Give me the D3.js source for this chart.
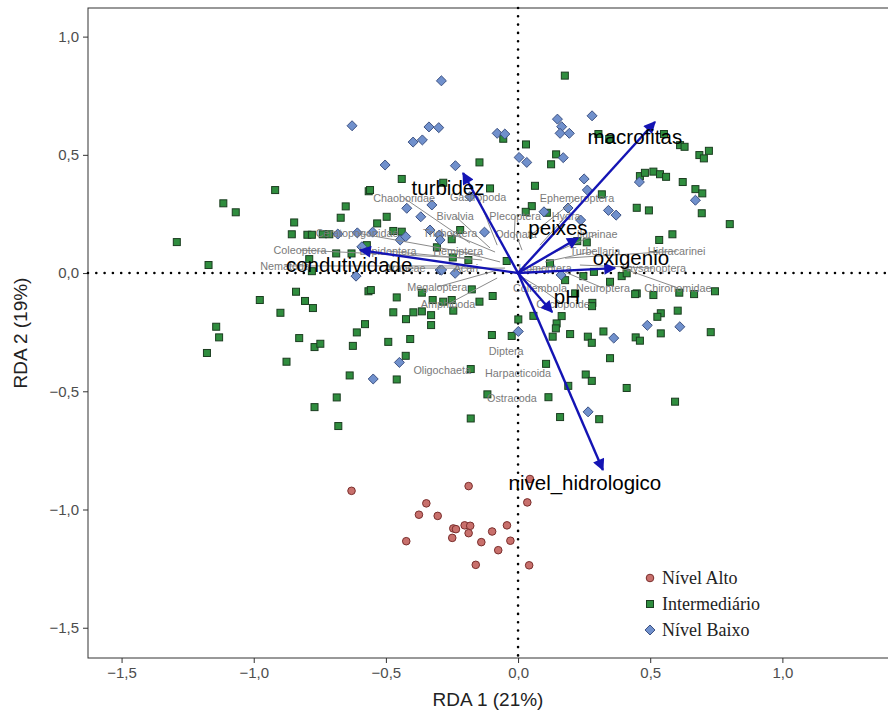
<!DOCTYPE html>
<html>
<head>
<meta charset="utf-8">
<script src="https://cdn.jsdelivr.net/npm/d3@7"></script>
<style>
  body { margin: 0; background: #fff; }
  svg { display: block; }
  .tick text { font-family: "Liberation Sans", Arial, sans-serif; }
</style>
</head>
<body>
<div id="chart"></div>
<script>
// RDA site scores, one array per hydrological level
const nivelAlto = [
  [-0.630,-0.921],[-0.187,-0.901],[0.045,-0.871],[0.035,-0.970],[-0.347,-0.974],
  [-0.375,-1.022],[-0.304,-1.027],[-0.245,-1.080],[-0.235,-1.083],[-0.202,-1.067],
  [-0.181,-1.069],[-0.187,-1.100],[-0.249,-1.120],[-0.423,-1.134],[-0.098,-1.093],
  [-0.042,-1.067],[-0.139,-1.138],[-0.029,-1.132],[-0.075,-1.172],[-0.160,-1.234],
  [0.042,-1.236]
];

const intermediario = [
  [-0.919,0.351],[-1.115,0.295],[-1.068,0.257],[-1.291,0.131],[-1.171,0.034],
  [-0.847,0.214],[-0.856,0.164],[-0.797,0.162],[-0.780,0.162],[-0.739,0.164],
  [-0.714,0.164],[-0.652,0.282],[-0.671,0.234],[-0.565,0.346],[-0.790,0.059],
  [-0.780,0.008],[-0.688,0.083],[-0.630,0.083],[-0.840,-0.079],[-0.977,-0.114],
  [-0.806,-0.118],[-0.776,-0.148],[-0.899,-0.168],[-1.142,-0.227],[-1.131,-0.272],
  [-1.177,-0.338],[-0.828,-0.275],[-0.770,-0.313],[-0.748,-0.299],[-0.876,-0.375],
  [-0.579,-0.216],[-0.610,-0.251],[-0.625,-0.308],[-0.637,-0.433],[-0.686,-0.526],
  [-0.770,-0.567],[-0.680,-0.647],[-0.566,-0.077],
  [-0.533,0.210],[-0.497,0.238],[-0.472,0.178],[-0.440,0.175],[-0.572,0.118],
  [-0.557,-0.072],[-0.459,-0.103],[-0.440,0.398],[-0.307,0.109],
  [-0.283,0.382],[-0.146,0.468],[-0.560,0.351],
  [-0.364,-0.083],[-0.323,-0.114],[-0.283,-0.121],[-0.245,-0.159],[-0.146,-0.121],
  [-0.472,-0.166],[-0.396,-0.166],[-0.364,-0.162],[-0.329,-0.178],[-0.424,-0.195],
  [-0.329,-0.220],[-0.491,-0.291],[-0.408,-0.279],[-0.099,-0.262],[-0.024,-0.266],
  [0.001,-0.196],[0.058,-0.181],[0.165,-0.182],[0.146,-0.213],[0.143,-0.234],
  [0.131,-0.269],[0.197,-0.258],[-0.425,-0.350],[-0.459,-0.450],[-0.179,-0.406],
  [0.106,-0.384],[-0.116,-0.513],[0.115,-0.525],[-0.179,-0.615],[0.159,-0.609],
  [0.190,-0.477],
  [-0.106,0.358],[0.064,0.369],[0.317,0.333],[0.052,0.283],[0.029,0.259],
  [0.109,0.255],[-0.219,0.182],[-0.251,0.143],[0.224,0.135],[0.260,0.130],
  [0.121,0.041],[-0.247,0.066],[-0.188,0.055],[-0.043,0.051],[0.287,0.005],
  [0.178,-0.030],[0.247,-0.013],[0.392,-0.013],[0.348,-0.037],[0.449,-0.086],
  [0.512,-0.093],[-0.096,-0.097],[-0.175,-0.069],[0.216,-0.086],[-0.251,-0.114],
  [0.281,-0.126],[0.623,0.385],[0.449,0.276],[0.495,0.265],[0.584,0.164],
  [0.534,0.140],[0.666,-0.089],[0.610,-0.083],
  [0.144,0.502],[0.125,0.460],[0.552,0.588],[0.613,0.541],[0.630,0.534],
  [0.686,0.499],[0.703,0.485],[0.722,0.517],[0.461,0.410],[0.480,0.424],
  [0.512,0.429],[0.537,0.418],[0.560,0.407],[0.671,0.355],[0.697,0.337],
  [0.695,0.253],[0.801,0.207],[0.411,-0.001],[0.443,-0.089],[0.745,-0.077],
  [0.280,-0.140],[0.264,-0.269],[0.279,-0.295],[0.323,-0.247],[0.445,-0.272],
  [0.461,-0.286],[0.540,-0.170],[0.527,-0.185],[0.604,-0.159],[0.540,-0.255],
  [0.729,-0.250],[0.348,-0.360],[0.256,-0.429],[0.279,-0.456],[0.411,-0.486],
  [0.594,-0.544],[0.307,-0.618],
  [0.030,0.544],[-0.056,0.568],[0.304,0.588],[0.345,0.567],[0.177,0.835]
];

const nivelBaixo = [
  [-0.290,0.813],[-0.628,0.623],[-0.337,0.618],[-0.300,0.615],[-0.397,0.554],
  [-0.362,0.563],[-0.503,0.457],[-0.237,0.454],[-0.079,0.591],[-0.050,0.588],
  [0.149,0.651],[0.165,0.619],[0.159,0.591],[0.194,0.591],[0.280,0.665],
  [0.004,0.489],[0.033,0.468],[0.171,0.488],[0.250,0.398],[0.262,0.351],
  [0.459,0.385],[0.671,0.308],[0.189,0.275],[0.342,0.265],[0.371,0.245],
  [0.237,0.224],[0.163,-0.008],[0.489,-0.221],[0.612,-0.227],[0.362,-0.275],
  [0.265,-0.587],[-0.682,0.165],[-0.608,0.170],[-0.550,0.173],[-0.591,0.111],
  [-0.613,-0.013],[-0.421,0.274],[-0.368,0.238],[-0.326,0.288],[-0.446,0.140],
  [-0.425,0.154],[-0.333,0.182],[-0.298,0.161],[-0.295,0.140],[-0.295,0.013],
  [-0.449,-0.378],[0.001,-0.247],[-0.548,-0.448],[-0.127,0.173],[0.098,0.259],
  [-0.238,-0.001],[-0.289,0.013],[-0.182,0.323]
];

// species: name, score (x,y), label position (x,y)
const speciesNames = ["Chaoboridae","Gastropoda","Ephemeroptera","Bivalvia","Plecoptera","Hydra",
  "Trichoptera","Odonata","Iluminae","Ceratopogonidae","Coleoptera","Lepidoptera","Hemiptera",
  "Turbellaria","Hidracarinei","Nematoda","Araneae","Acari","Homoptera","Thysanoptera",
  "Megaloptera","Collembola","Neuroptera","Chironomidae","Amphipoda","Cyclopoide",
  "Diptera","Oligochaeta","Harpacticoida","Ostracoda"];
const speciesScore = [
  [-0.182,0.127],[-0.079,0.118],[0.034,0.148],[-0.106,0.106],[-0.015,0.140],[0.083,0.118],
  [-0.087,0.089],[0.015,0.097],[0.113,0.076],[-0.144,0.076],[-0.182,0.063],[-0.136,0.055],
  [-0.068,0.047],[0.102,0.047],[0.178,0.063],[-0.182,0.030],[-0.121,0.021],[-0.049,0.021],
  [0.038,0.013],[0.234,0.034],[-0.076,0.013],[0.015,-0.017],[0.178,0.004],[0.393,0.021],
  [-0.079,-0.021],[0.083,-0.063],[-0.045,-0.330],[-0.287,-0.410],[0.000,-0.423],[-0.023,-0.529]
];
const speciesLabel = [
  [-0.431,0.317],[-0.151,0.321],[0.223,0.317],[-0.238,0.241],[-0.011,0.241],[0.182,0.241],
  [-0.257,0.169],[-0.008,0.165],[0.299,0.165],[-0.609,0.169],[-0.825,0.097],[-0.492,0.093],
  [-0.227,0.093],[0.291,0.093],[0.600,0.093],[-0.881,0.030],[-0.427,0.021],[-0.197,0.021],
  [0.102,0.021],[0.511,0.021],[-0.306,-0.059],[0.083,-0.063],[0.321,-0.063],[0.605,-0.063],
  [-0.265,-0.131],[0.170,-0.131],[-0.045,-0.330],[-0.287,-0.410],[0.000,-0.423],[-0.023,-0.529]
];

// environmental vectors
const envNames = ["macrofitas","turbidez","peixes","oxigenio","condutividade","pH","nivel_hidrologico"];
const envTip = [[0.518,0.639],[-0.208,0.423],[0.227,0.148],[0.367,0.021],[-0.598,0.097],[0.129,-0.165],[0.321,-0.833]];
const envLabel = [[0.442,0.575],[-0.265,0.360],[0.151,0.190],[0.427,0.063],[-0.639,0.034],[0.185,-0.102],[0.253,-0.888]];

const xTicks = [-1.5,-1.0,-0.5,0,0.5,1.0];
const yTicks = [-1.5,-1.0,-0.5,0,0.5,1.0];
const legendLabels = ["Nível Alto","Intermediário","Nível Baixo"];

const width = 888, height = 713;
const panel = {left: 88, top: 8, right: 900, bottom: 658};

const x = d3.scaleLinear().domain([-1.627, 1.445]).range([panel.left, panel.right]);
const y = d3.scaleLinear().domain([-1.628, 1.121]).range([panel.bottom, panel.top]);

const fmt = v => d3.format(".1f")(v).replace(".", ",").replace("-", "\u2212");

const svg = d3.select("#chart").append("svg")
    .attr("width", width)
    .attr("height", height);

svg.append("defs").append("marker")
    .attr("id", "head")
    .attr("viewBox", "0 -5 10 10")
    .attr("refX", 9)
    .attr("refY", 0)
    .attr("markerWidth", 6)
    .attr("markerHeight", 5)
    .attr("markerUnits", "strokeWidth")
    .attr("orient", "auto")
    .append("path")
    .attr("d", "M0,-5L10,0L0,5Z")
    .attr("fill", "#1414b4");

// axes
const xAxis = svg.append("g")
    .attr("transform", `translate(0,${panel.bottom})`)
    .call(d3.axisBottom(x).tickValues(xTicks).tickFormat(fmt).tickSize(5).tickPadding(4));
const yAxis = svg.append("g")
    .attr("transform", `translate(${panel.left},0)`)
    .call(d3.axisLeft(y).tickValues(yTicks).tickFormat(fmt).tickSize(5).tickPadding(4));
[xAxis, yAxis].forEach(a => {
    a.select(".domain").remove();
    a.selectAll(".tick line").attr("stroke", "#333");
    a.selectAll(".tick text").attr("fill", "#4d4d4d").style("font-size", "15px");
});

// panel border
svg.append("rect")
    .attr("x", panel.left).attr("y", panel.top)
    .attr("width", panel.right - panel.left).attr("height", panel.bottom - panel.top)
    .attr("fill", "none").attr("stroke", "#333").attr("stroke-width", 1);

// dotted zero lines
const plot = svg.append("g");
plot.append("line")
    .attr("x1", panel.left).attr("x2", panel.right).attr("y1", y(0)).attr("y2", y(0))
    .attr("stroke", "#000").attr("stroke-width", 2.6).attr("stroke-linecap", "round")
    .attr("stroke-dasharray", "0 8.3");
plot.append("line")
    .attr("x1", x(0)).attr("x2", x(0)).attr("y1", panel.top).attr("y2", panel.bottom)
    .attr("stroke", "#000").attr("stroke-width", 2.6).attr("stroke-linecap", "round")
    .attr("stroke-dasharray", "0 8.3");

// site points
const drawSquare = (g, data) => g.selectAll("rect").data(data).enter().append("rect")
    .attr("x", d => x(d[0]) - 3.5).attr("y", d => y(d[1]) - 3.5)
    .attr("width", 7).attr("height", 7)
    .attr("fill", "#2f8d3e").attr("stroke", "#1b3d20").attr("stroke-width", 1);
const drawCircle = (g, data) => g.selectAll("circle").data(data).enter().append("circle")
    .attr("cx", d => x(d[0])).attr("cy", d => y(d[1])).attr("r", 3.8)
    .attr("fill", "#c8706c").attr("stroke", "#7a2e2c").attr("stroke-width", 1);
const diamond = d3.symbol().type(d3.symbolDiamond2).size(64);
const drawDiamond = (g, data) => g.selectAll("path").data(data).enter().append("path")
    .attr("d", diamond)
    .attr("transform", d => `translate(${x(d[0])},${y(d[1])})`)
    .attr("fill", "#7090cc").attr("stroke", "#3d5283").attr("stroke-width", 1);

drawSquare(plot.append("g"), intermediario);
drawDiamond(plot.append("g"), nivelBaixo);
drawCircle(plot.append("g"), nivelAlto);

// species segments and labels
const sp = plot.append("g");
const speciesData = speciesNames.map((n, i) => ({name: n, s: speciesScore[i], l: speciesLabel[i]}));
sp.selectAll("line").data(speciesData.filter(d => d.s[0] !== d.l[0] || d.s[1] !== d.l[1]))
    .enter().append("line")
    .attr("x1", d => x(d.s[0])).attr("y1", d => y(d.s[1]))
    .attr("x2", d => x(d.l[0])).attr("y2", d => y(d.l[1]))
    .attr("stroke", "#8a8a8a").attr("stroke-width", 1);
sp.selectAll("text").data(speciesData).enter().append("text")
    .attr("x", d => x(d.l[0])).attr("y", d => y(d.l[1]))
    .attr("dy", "0.35em").attr("text-anchor", "middle")
    .attr("fill", "#7a7a7a")
    .style("font-family", "'Liberation Sans', Arial, sans-serif")
    .style("font-size", "10.8px")
    .text(d => d.name);

// environmental arrows
const env = plot.append("g");
const envData = envNames.map((n, i) => ({name: n, tip: envTip[i], lab: envLabel[i]}));
env.selectAll("line").data(envData).enter().append("line")
    .attr("x1", x(0)).attr("y1", y(0))
    .attr("x2", d => x(d.tip[0])).attr("y2", d => y(d.tip[1]))
    .attr("stroke", "#1414b4").attr("stroke-width", 2.4)
    .attr("marker-end", "url(#head)");
env.selectAll("text").data(envData).enter().append("text")
    .attr("x", d => x(d.lab[0])).attr("y", d => y(d.lab[1]))
    .attr("dy", "0.35em").attr("text-anchor", "middle")
    .attr("fill", "#000")
    .style("font-family", "'Liberation Sans', Arial, sans-serif")
    .style("font-size", "20.5px")
    .text(d => d.name);

// axis titles
svg.append("text")
    .attr("x", 488).attr("y", 706)
    .attr("text-anchor", "middle").attr("fill", "#222")
    .style("font-family", "'Liberation Sans', Arial, sans-serif").style("font-size", "19px")
    .text("RDA 1 (21%)");
svg.append("text")
    .attr("transform", `translate(27,333) rotate(-90)`)
    .attr("text-anchor", "middle").attr("fill", "#222")
    .style("font-family", "'Liberation Sans', Arial, sans-serif").style("font-size", "19px")
    .text("RDA 2 (19%)");

// legend
const legend = svg.append("g").attr("transform", "translate(650,578)");
const items = legend.selectAll("g").data(legendLabels).enter().append("g")
    .attr("transform", (d, i) => `translate(0,${i * 26})`);
items.each(function(d, i) {
    const g = d3.select(this);
    if (i === 0) drawCircle(g, [[x.invert(0), y.invert(0)]]);
    if (i === 1) drawSquare(g, [[x.invert(0), y.invert(0)]]);
    if (i === 2) drawDiamond(g, [[x.invert(0), y.invert(0)]]);
});
items.append("text")
    .attr("x", 12).attr("dy", "0.35em")
    .attr("fill", "#222")
    .style("font-family", "'Liberation Serif', 'Times New Roman', serif")
    .style("font-size", "18px")
    .text(d => d);
</script>
</body>
</html>
